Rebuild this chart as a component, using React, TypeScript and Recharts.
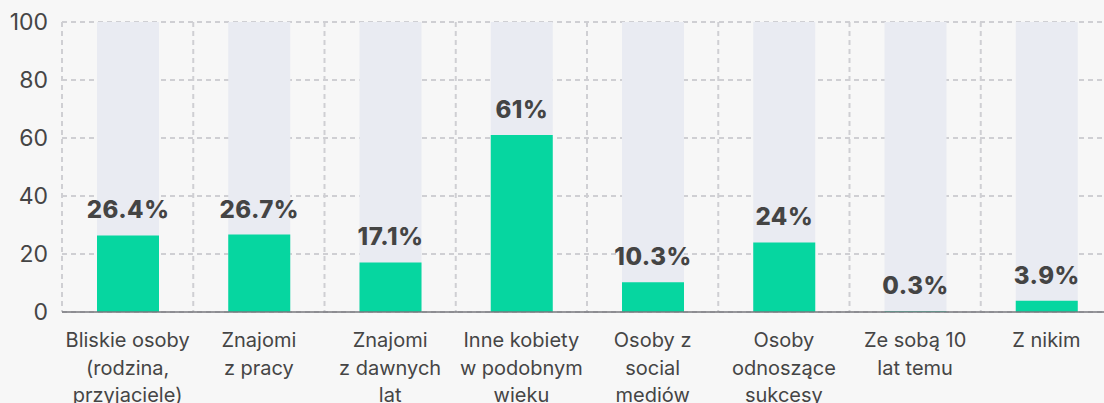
import React from "react";
import { BarChart, Bar, XAxis, YAxis, CartesianGrid, LabelList } from "recharts";

const categories = [
  "Bliskie osoby\n(rodzina,\nprzyjaciele)",
  "Znajomi\nz pracy",
  "Znajomi\nz dawnych\nlat",
  "Inne kobiety\nw podobnym\nwieku",
  "Osoby z\nsocial\nmediów",
  "Osoby\nodnoszące\nsukcesy",
  "Ze sobą 10\nlat temu",
  "Z nikim",
];
const values = [26.4, 26.7, 17.1, 61, 10.3, 24, 0.3, 3.9];
const yTicks = [0, 20, 40, 60, 80, 100];

const data = categories.map((c, i) => ({ name: c, value: values[i] }));

const XTick = (props: any) => {
  const { x, y, payload } = props;
  const lines = String(payload.value).split("\n");
  return (
    <text x={x} y={y} textAnchor="middle" fill="#454545" fontSize={20} fontFamily="Inter">
      {lines.map((l: string, i: number) => (
        <tspan key={i} x={x} dy={i === 0 ? "0.71em" : 27.5}>
          {l}
        </tspan>
      ))}
    </text>
  );
};

export default function App() {
  return (
    <div
      style={{
        position: "absolute",
        left: 0,
        top: 0,
        width: 1104,
        height: 403,
        overflow: "hidden",
        background: "#f7f7f7",
      }}
    >
      <BarChart
        width={1112}
        height={403}
        data={data}
        margin={{ top: 22, right: 0, left: 0, bottom: 0 }}
        barSize={62}
      >
        <CartesianGrid
          stroke="#cfcfd3"
          strokeWidth={2}
          strokeDasharray="5 4"
          verticalCoordinatesGenerator={({ offset }: any) => {
            const n = categories.length;
            return Array.from({ length: n + 1 }, (_, i) => offset.left + (i * offset.width) / n);
          }}
        />
        <XAxis
          dataKey="name"
          height={91}
          interval={0}
          tickLine={false}
          tickSize={0}
          tickMargin={21}
          axisLine={{ stroke: "#77777c", strokeWidth: 1.5 }}
          tick={<XTick />}
        />
        <YAxis
          width={62}
          domain={[0, 100]}
          ticks={yTicks}
          axisLine={false}
          tickLine={false}
          tickSize={0}
          tickMargin={14}
          tick={{ fill: "#454545", fontSize: 23, fontFamily: "Inter" }}
        />
        <Bar
          dataKey="value"
          fill="#06d6a0"
          background={{ fill: "#e9ebf2" }}
          isAnimationActive={false}
        >
          <LabelList
            dataKey="value"
            position="top"
            offset={17}
            formatter={(v: any) => `${v}%`}
            fill="#444444"
            fontSize={24}
            fontWeight={800}
            fontFamily="Inter"
            letterSpacing={0.5}
          />
        </Bar>
      </BarChart>
    </div>
  );
}
